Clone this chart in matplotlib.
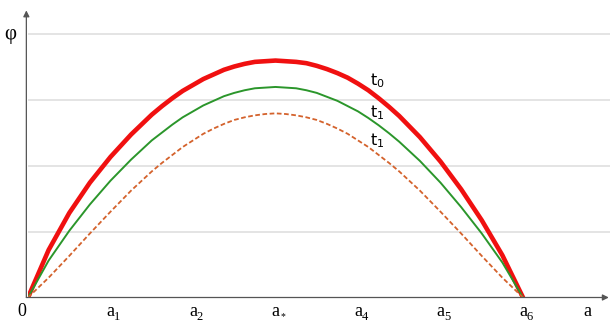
import numpy as np
import matplotlib
matplotlib.use('Agg')
import matplotlib.pyplot as plt

# values, x in units of the a-ticks (0 .. a6)
x_vals = [0, 0.25, 0.5, 0.75, 1.0, 1.25, 1.5, 1.625, 1.75, 1.875, 2.0, 2.125, 2.25,
          2.375, 2.5, 2.625, 2.75, 2.875, 3.0, 3.125, 3.25, 3.375, 3.5, 3.625, 3.75,
          3.875, 4.0, 4.125, 4.25, 4.375, 4.5, 4.75, 5.0, 5.25, 5.5, 5.75, 6.0]
phi_t0 = [0, 0.72, 1.28, 1.74, 2.13, 2.47, 2.77, 2.90, 3.02, 3.13, 3.22, 3.31, 3.38,
          3.45, 3.50, 3.54, 3.57, 3.58, 3.59, 3.58, 3.57, 3.55, 3.51, 3.46, 3.40,
          3.33, 3.24, 3.14, 3.02, 2.89, 2.75, 2.43, 2.06, 1.64, 1.17, 0.64, 0]
phi_t1 = [0, 0.56, 1.01, 1.41, 1.77, 2.09, 2.38, 2.50, 2.62, 2.73, 2.82, 2.91, 2.98,
          3.05, 3.10, 3.14, 3.17, 3.18, 3.19, 3.18, 3.17, 3.14, 3.10, 3.04, 2.98,
          2.90, 2.82, 2.72, 2.61, 2.49, 2.36, 2.07, 1.74, 1.37, 0.97, 0.53, 0]
phi_t1b = [0, 0.30, 0.63, 0.97, 1.30, 1.62, 1.91, 2.04, 2.16, 2.28, 2.38, 2.48, 2.56,
           2.63, 2.69, 2.73, 2.76, 2.78, 2.79, 2.78, 2.76, 2.73, 2.69, 2.63, 2.56,
           2.48, 2.38, 2.28, 2.16, 2.04, 1.91, 1.62, 1.30, 0.97, 0.63, 0.30, 0]

tick_pos = [0, 1, 2, 3, 4, 5, 6]
tick_sub = ['', '1', '2', '*', '4', '5', '6']
grid_levels = [1, 2, 3, 4]

fig = plt.figure(figsize=(6.1, 3.25), dpi=100)
ax = fig.add_axes([28 / 610, 27.5 / 325, 582 / 610, 287.5 / 325])
ax.set_xlim(0, 582 / 82.5)
ax.set_ylim(0, 287.5 / 66)
for s in ax.spines.values():
    s.set_visible(False)
ax.set_xticks([])
ax.set_yticks([])

for g in grid_levels:
    ax.axhline(g, color='#dcdcdc', lw=1.1, zorder=0)

ax.plot(x_vals, phi_t0, color='#f01010', lw=3.3, solid_capstyle='round',
        solid_joinstyle='round', zorder=3)
ax.plot(x_vals, phi_t1, color='#2b962b', lw=1.4, solid_joinstyle='round', zorder=4)
ax.plot(x_vals, phi_t1b, color='#d4622c', lw=1.3, linestyle=(0, (2.6, 1.4)), zorder=5)

# axes with arrows
arrow = dict(arrowstyle='-|>', color='#555555', lw=0.9, mutation_scale=9, shrinkA=0, shrinkB=0)
ax.annotate('', xy=(7.04, 0), xytext=(-0.02, 0), arrowprops=arrow, annotation_clip=False, zorder=6)
ax.annotate('', xy=(-0.02, 4.35), xytext=(-0.02, 0), arrowprops=arrow, annotation_clip=False, zorder=6)

serif = 'Liberation Serif'
ax.text(-0.07, -0.28, '0', ha='center', va='baseline', fontsize=13, family=serif, clip_on=False)
for p, sub in zip(tick_pos[1:], tick_sub[1:]):
    ax.text(p, -0.28, 'a', ha='center', va='baseline', fontsize=13, family=serif, clip_on=False)
    if sub == '*':
        ax.text(p + 0.055, -0.32, '*', ha='left', va='baseline', fontsize=7,
                family=serif, clip_on=False)
    else:
        ax.text(p + 0.045, -0.345, sub, ha='left', va='baseline', fontsize=9,
                family=serif, clip_on=False)
ax.text(6.78, -0.28, 'a', ha='center', va='baseline', fontsize=13, family=serif, clip_on=False)
ax.text(-0.21, 3.98, 'φ', ha='center', va='center', fontsize=15, family=serif, clip_on=False)

ax.text(4.14, 3.29, r'$\mathregular{t_0}$', ha='left', va='center', fontsize=11.5, family='DejaVu Sans')
ax.text(4.14, 2.80, r'$\mathregular{t_1}$', ha='left', va='center', fontsize=11.5, family='DejaVu Sans')
ax.text(4.14, 2.38, r'$\mathregular{t_1}$', ha='left', va='center', fontsize=11.5, family='DejaVu Sans')

fig.savefig('out.png', dpi=100)
